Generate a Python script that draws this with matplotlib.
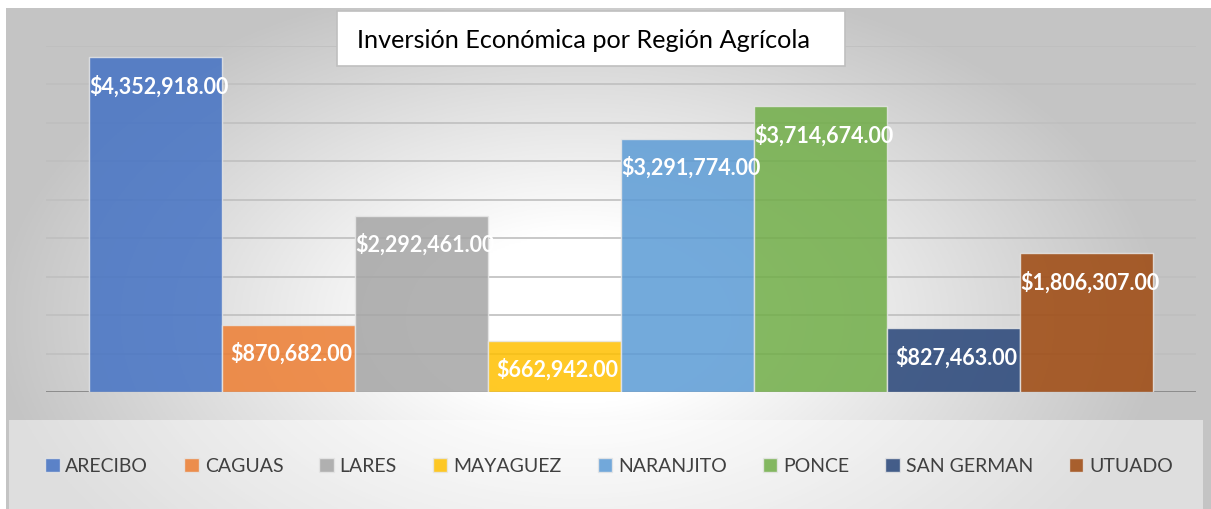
import numpy as np
import matplotlib
matplotlib.use("Agg")
import matplotlib.pyplot as plt
from matplotlib.patches import Rectangle, Patch

# datos del grafico
regiones = ["ARECIBO", "CAGUAS", "LARES", "MAYAGUEZ", "NARANJITO", "PONCE", "SAN GERMAN", "UTUADO"]
inversion = [4352918.00, 870682.00, 2292461.00, 662942.00, 3291774.00, 3714674.00, 827463.00, 1806307.00]
colores = ["#4472C4", "#ED7D31", "#A5A5A5", "#FFC000", "#5B9BD5", "#70AD47", "#264478", "#9E480E"]
titulo = "Inversión Económica por Región Agrícola"

W, H = 1211, 510
fig = plt.figure(figsize=(W / 100, H / 100), dpi=100)
fig.patch.set_facecolor("white")

# fondo con degradado radial (area del grafico)
bg = fig.add_axes([6 / W, 0, 1 - 6 / W, 1 - 9 / H], zorder=0)
gx, gy = np.meshgrid(np.linspace(6, W, 600), np.linspace(9, H, 300))
r = np.sqrt(((gx - 580) / 720) ** 2 + ((gy - 320) / 430) ** 2)
shade = np.clip(1.0 - 0.30 * np.clip(r - 0.2, 0, None) / 0.8, 0.77, 1.0)
bg.imshow(np.dstack([shade] * 3), aspect="auto", extent=[0, 1, 0, 1], origin="upper")
bg.add_patch(Rectangle((3 / W, 0), 1 - 11 / W, (510 - 421) / (H - 9),
                       facecolor="white", alpha=0.45, edgecolor="none"))
bg.axis("off")

# ejes principales
ax = fig.add_axes([46 / W, (H - 393) / H, 1150 / W, 346 / H], zorder=1)
ax.patch.set_alpha(0)
x = np.arange(len(regiones))
barras = ax.bar(x, inversion, width=1.0, color=colores, alpha=0.85,
                edgecolor="#e6e6e6", linewidth=1, zorder=2)
ax.set_ylim(0, 4500000)
ax.set_xlim(-0.5 - 43 / 133, len(regiones) - 0.5 + 43 / 133)
for v in np.arange(500000, 4500001, 500000):
    ax.axhline(v, color="#bfbfbf", linewidth=1.2, zorder=1)
ax.axhline(0, color="#8c8c8c", linewidth=1.4, zorder=1)
for s in ax.spines.values():
    s.set_visible(False)
ax.set_xticks([])
ax.set_yticks([])

for xi, v in zip(x, inversion):
    ax.annotate("${:,.2f}".format(v), (xi, v), xytext=(3, -28), textcoords="offset pixels",
                ha="center", va="center", color="white", fontsize=15.5,
                fontweight="bold", family="Lato", zorder=3)

# titulo en caja blanca
fig.patches.append(Rectangle((337 / W, 1 - 67 / H), 508 / W, 55 / H, transform=fig.transFigure,
                             facecolor="white", edgecolor="#bfbfbf", linewidth=1.2, zorder=5))
fig.text(357 / W, 1 - 41 / H, titulo, ha="left", va="center", fontsize=18.2,
         family="Lato", color="black", zorder=6)

# leyenda
handles = [Patch(facecolor=c, alpha=0.85, edgecolor="#e6e6e6", label=n) for c, n in zip(colores, regiones)]
fig.legend(handles=handles, loc="center", bbox_to_anchor=(609 / W, 1 - 467 / H), ncol=8,
           frameon=False, handlelength=0.75, handleheight=0.75,
           handletextpad=0.3, columnspacing=1.85, labelcolor="#404040",
           prop={"family": "Lato", "size": 14})

fig.savefig("out.png", dpi=100)
